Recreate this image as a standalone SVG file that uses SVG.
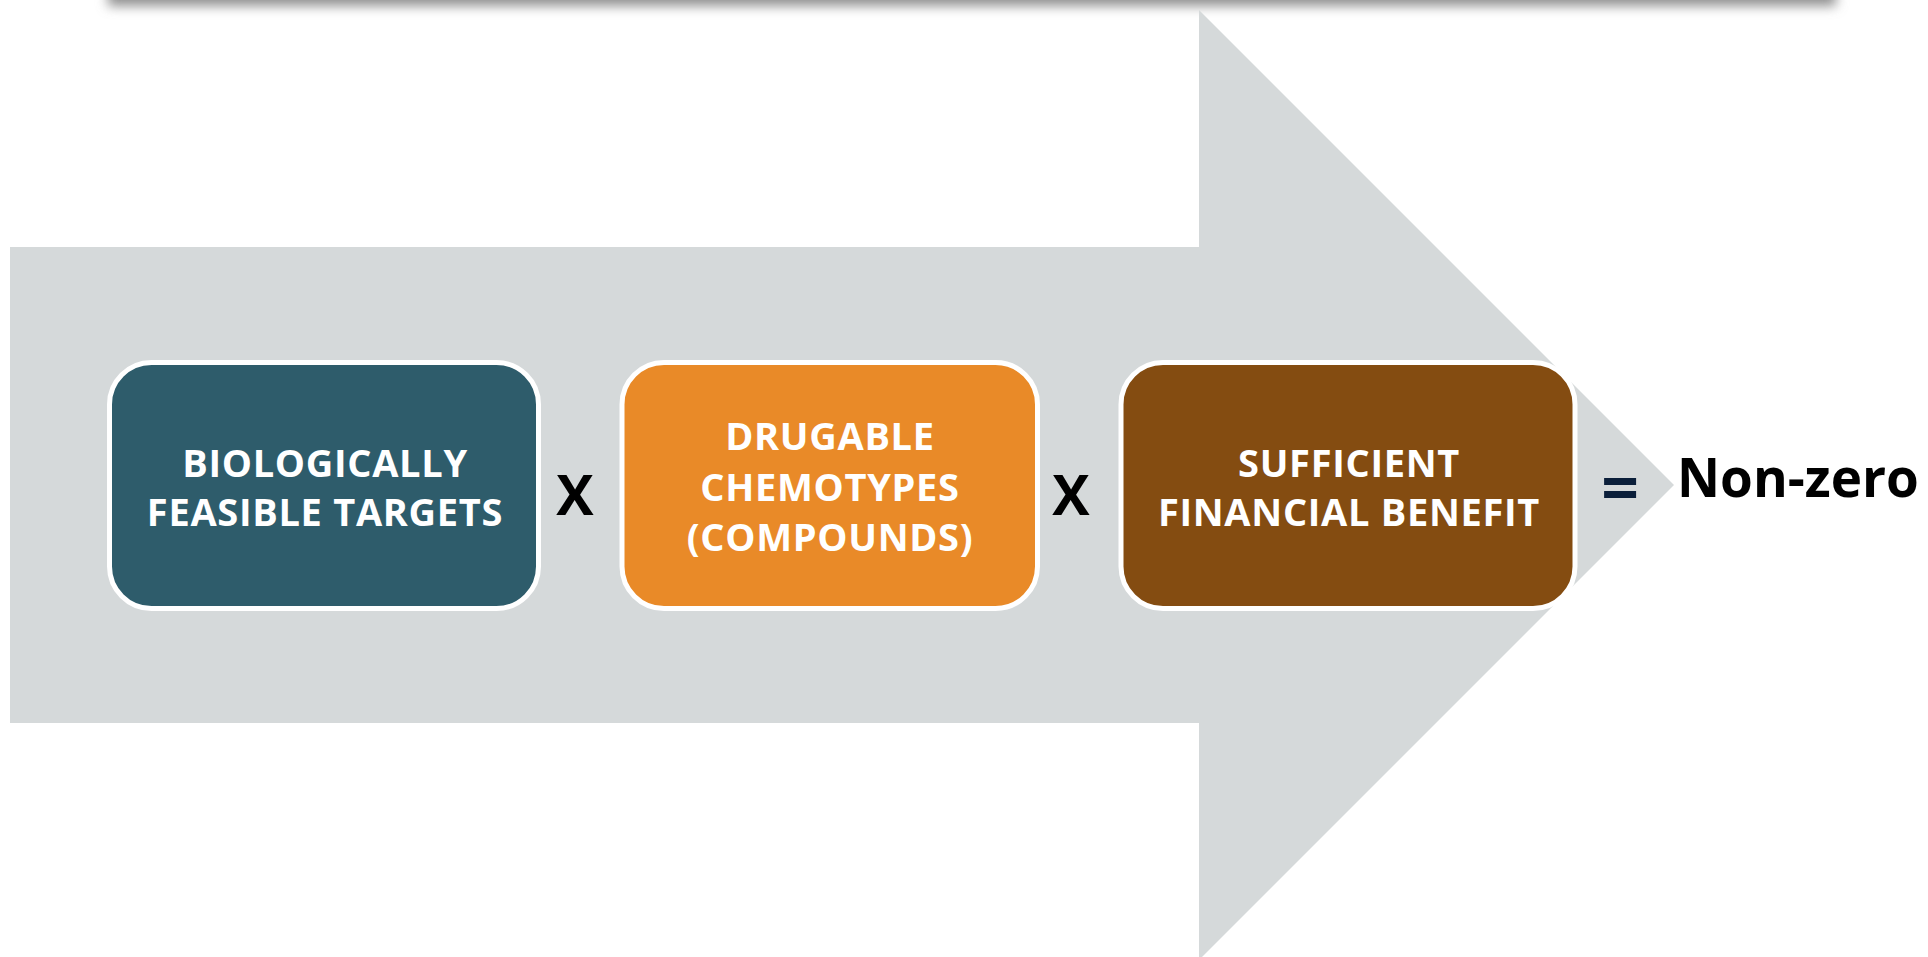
<svg xmlns="http://www.w3.org/2000/svg" width="1928" height="957" viewBox="0 0 1928 957">
<defs>
<filter id="sh" x="-5%" y="-50%" width="110%" height="200%"><feGaussianBlur stdDeviation="6"/></filter>
<style>
.box{stroke:#FFFFFF;stroke-width:5}
.lbl{font-family:"Open Sans","Noto Sans",sans-serif;font-weight:700;font-size:38px;letter-spacing:0.7px;fill:#FFFFFF;text-anchor:middle}
.op{font-family:"Open Sans","Noto Sans",sans-serif;font-weight:700;font-size:56px;fill:#000000;text-anchor:middle}
</style>
</defs>
<rect x="0" y="0" width="1928" height="957" fill="#FFFFFF"/>
<rect x="108" y="-40" width="1728" height="46" fill="#909090" filter="url(#sh)"/>
<rect x="100" y="-60" width="1744" height="60" fill="#FFFFFF"/>
<g id="arrow">
<polygon points="10,247 1199,247 1199,10 1674,485 1199,960 1199,723 10,723" fill="#D5D9DA"/>
</g>
<g id="node1">
<rect class="box" x="109.5" y="362.5" width="429" height="246" rx="42" fill="#2E5C6B"/>
<text class="lbl" x="325" y="477">BIOLOGICALLY</text>
<text class="lbl" x="325" y="526">FEASIBLE TARGETS</text>
</g>
<g id="node2">
<rect class="box" x="622" y="362.5" width="415.5" height="246" rx="42" fill="#E98A28"/>
<text class="lbl" x="830" y="450">DRUGABLE</text>
<text class="lbl" x="830" y="501">CHEMOTYPES</text>
<text class="lbl" x="830" y="551">(COMPOUNDS)</text>
</g>
<g id="node3">
<rect class="box" x="1121" y="362.5" width="454" height="246" rx="42" fill="#844C11"/>
<text class="lbl" x="1349" y="477">SUFFICIENT</text>
<text class="lbl" x="1349" y="526">FINANCIAL BENEFIT</text>
</g>
<g id="connectors">
<text class="op" x="575" y="515">X</text>
<text class="op" x="1071" y="515">X</text>
<text class="op" x="1620" y="512" style="fill:#0B1F3A;font-size:66px">=</text>
</g>
<g id="result">
<text x="1677" y="497" style="font-family:'Open Sans','Noto Sans',sans-serif;font-weight:700;font-size:53px;fill:#000000">Non-zero</text>
</g>
</svg>
